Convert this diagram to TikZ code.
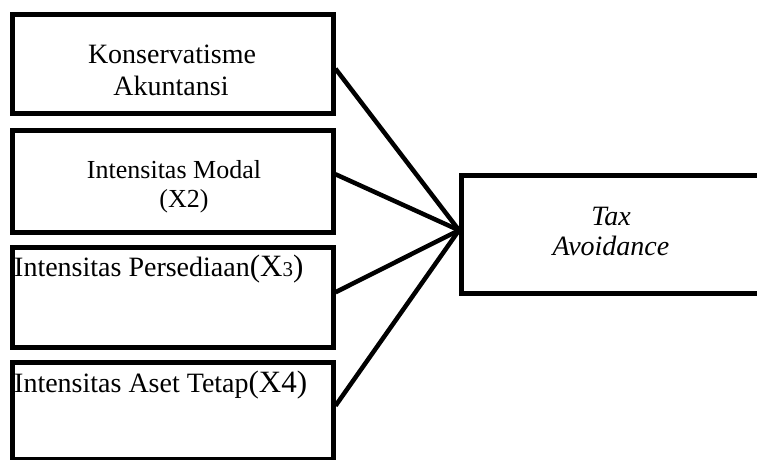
\documentclass[tikz,border=0pt]{standalone}
\usepackage{fontspec}
\setmainfont{Liberation Serif}
\tikzset{
  boxnode/.style={draw=black, line width=4.5pt, minimum width=321pt, inner sep=0pt, fill=white},
  txt/.style={inner sep=0pt, font=\fontsize{28}{32}\selectfont},
  txtsm/.style={inner sep=0pt, font=\fontsize{26}{30}\selectfont},
  conn/.style={draw=black, line width=4.5pt},
}
\newcommand{\bigX}[1]{{\fontsize{31}{34}\selectfont #1}}
\newcommand{\smallD}[1]{{\fontsize{21}{24}\selectfont #1}}
\begin{document}
\begin{tikzpicture}[x=1pt,y=-1pt]
\useasboundingbox (0,0) rectangle (757,459);
\clip (0,0) rectangle (757,459);
% boxes
\node[boxnode, minimum height=99pt, anchor=north west] (b1) at (10,12) {};
\node[boxnode, minimum height=102pt, anchor=north west] (b2) at (10,128) {};
\node[boxnode, minimum height=100pt, anchor=north west] (b3) at (10,245) {};
\node[boxnode, minimum height=97pt, anchor=north west] (b4) at (10,360) {};
\node[boxnode, minimum width=305pt, minimum height=118pt, anchor=north west] (t) at (459,173) {};
% connectors
\coordinate (hub) at ([yshift=4pt]t.west);
\draw[conn] ([yshift=-5pt]b1.east) -- (hub);
\draw[conn] ([yshift=7pt]b2.east) -- (hub);
\draw[conn] ([yshift=5pt]b3.east) -- (hub);
\draw[conn] ([yshift=5pt]b4.east) -- (hub);
% texts
\node[txt, anchor=base] (t1a) at (172,63) {Konservatisme};
\node[txt, anchor=base] (t1b) at (171,95) {Akuntansi};
\node[txtsm, anchor=base] (t2a) at (174,178) {Intensitas Modal};
\node[txtsm, anchor=base] (t2b) at (184,207) {(X2)};
\node[txt, anchor=base west] (t3) at (14,276) {Intensitas Persediaan\bigX{(X}\smallD{3}\bigX{)}};
\node[txt, anchor=base west] (t4) at (14,392) {Intensitas Aset Tetap\bigX{(X4)}};
\node[txt, anchor=base] (ta) at (611,225) {\itshape Tax};
\node[txt, anchor=base] (tb) at (611,255) {\itshape Avoidance};
\end{tikzpicture}
\end{document}
